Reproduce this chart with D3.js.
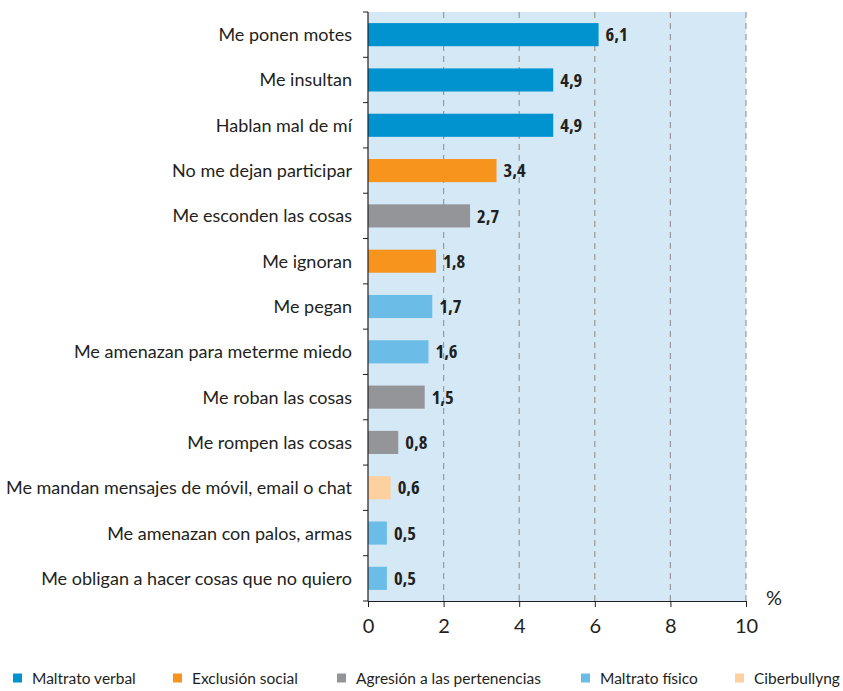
<!DOCTYPE html>
<html>
<head>
<meta charset="utf-8">
<script src="https://cdn.jsdelivr.net/npm/d3@7"></script>
<style>
  body { margin: 0; background: #fff; }
  svg text { font-family: Lato, "Open Sans", sans-serif; fill: #231f20; }
  svg text.val { font-family: "Open Sans", sans-serif; font-stretch: condensed; font-weight: bold; }
</style>
</head>
<body>
<div id="chart"></div>
<script>
// datos
const categories = [
  'Me ponen motes', 'Me insultan', 'Hablan mal de mí', 'No me dejan participar',
  'Me esconden las cosas', 'Me ignoran', 'Me pegan', 'Me amenazan para meterme miedo',
  'Me roban las cosas', 'Me rompen las cosas', 'Me mandan mensajes de móvil, email o chat',
  'Me amenazan con palos, armas', 'Me obligan a hacer cosas que no quiero'
];
const values = [6.1, 4.9, 4.9, 3.4, 2.7, 1.8, 1.7, 1.6, 1.5, 0.8, 0.6, 0.5, 0.5];
const groups = [0, 0, 0, 1, 2, 1, 3, 3, 2, 2, 4, 3, 3];
const groupNames = ['Maltrato verbal', 'Exclusión social', 'Agresión a las pertenencias', 'Maltrato físico', 'Ciberbullyng'];
const groupColors = ['#0093d0', '#f7941d', '#939598', '#6bbde8', '#fdd09f'];
const xTicks = [0, 2, 4, 6, 8, 10];

const svgWidth = 843;
const svgHeight = 691;
const svg = d3.select('#chart')
  .append('svg')
  .attr('width', svgWidth)
  .attr('height', svgHeight);

const margin = { top: 12, right: 97, bottom: 90, left: 368 };
const width = svgWidth - margin.left - margin.right;
const height = svgHeight - margin.top - margin.bottom;
const graph = svg.append('g')
  .attr('transform', `translate(${margin.left},${margin.top})`);

const xScale = d3.scaleLinear().domain([0, 10]).range([0, width]);
const yScale = d3.scaleBand().domain(categories).range([0, height]).paddingInner(0.49).paddingOuter(0.245);

// fondo
graph.append('rect')
  .attr('width', width)
  .attr('height', height)
  .attr('fill', '#d4e8f5');

// rejilla
graph.selectAll('.grid')
  .data(xTicks.slice(1))
  .enter()
  .append('line')
  .attr('x1', d => xScale(d))
  .attr('x2', d => xScale(d))
  .attr('y1', 0)
  .attr('y2', height)
  .attr('stroke', '#9a9a9a')
  .attr('stroke-width', 1.2)
  .attr('stroke-dasharray', '6,5');

// barras
graph.selectAll('.bar')
  .data(values)
  .enter()
  .append('rect')
  .attr('x', 0)
  .attr('y', (d, i) => yScale(categories[i]))
  .attr('width', d => xScale(d))
  .attr('height', yScale.bandwidth())
  .attr('fill', (d, i) => groupColors[groups[i]]);

// etiquetas de valor
graph.selectAll('.val')
  .data(values)
  .enter()
  .append('text')
  .attr('class', 'val')
  .attr('x', d => xScale(d) + 7)
  .attr('y', (d, i) => yScale(categories[i]) + yScale.bandwidth() / 2)
  .attr('dy', '0.36em')
  .attr('font-size', 18.5)
  .text(d => d3.format('.1f')(d).replace('.', ','));

// eje Y
const step = height / categories.length;
graph.append('line')
  .attr('x1', 0).attr('x2', 0).attr('y1', 0).attr('y2', height)
  .attr('stroke', '#231f20').attr('stroke-width', 1.2);
graph.selectAll('.ytick')
  .data(d3.range(categories.length + 1))
  .enter()
  .append('line')
  .attr('x1', -5).attr('x2', 0)
  .attr('y1', d => d * step).attr('y2', d => d * step)
  .attr('stroke', '#231f20');
graph.selectAll('.ylab')
  .data(categories)
  .enter()
  .append('text')
  .attr('x', -16)
  .attr('y', d => yScale(d) + yScale.bandwidth() / 2)
  .attr('dy', '0.36em')
  .attr('text-anchor', 'end')
  .attr('font-size', 18)
  .text(d => d);

// eje X
const xAxis = graph.append('g')
  .attr('transform', `translate(0,${height})`)
  .call(d3.axisBottom(xScale).tickValues(xTicks).tickSize(6).tickSizeOuter(0));
xAxis.select('.domain').attr('stroke', '#231f20').attr('stroke-width', 1.2);
xAxis.selectAll('.tick line').attr('stroke', '#231f20');
xAxis.selectAll('.tick text')
  .attr('font-size', 20)
  .attr('y', 18)
  .attr('dy', '0.71em');

graph.append('text')
  .attr('x', width + 28)
  .attr('y', height + 4)
  .attr('text-anchor', 'middle')
  .attr('font-size', 20)
  .text('%');

// leyenda
const legendX = [13, 173, 337, 581, 735];
const legend = svg.selectAll('.legend')
  .data(groupNames)
  .enter()
  .append('g')
  .attr('transform', (d, i) => `translate(${legendX[i]},678)`);
legend.append('rect')
  .attr('x', 0).attr('y', -4.5)
  .attr('width', 9).attr('height', 9)
  .attr('fill', (d, i) => groupColors[i]);
legend.append('text')
  .attr('x', 19)
  .attr('y', 0)
  .attr('dy', '0.36em')
  .attr('font-size', 15.5)
  .text(d => d);
</script>
</body>
</html>
